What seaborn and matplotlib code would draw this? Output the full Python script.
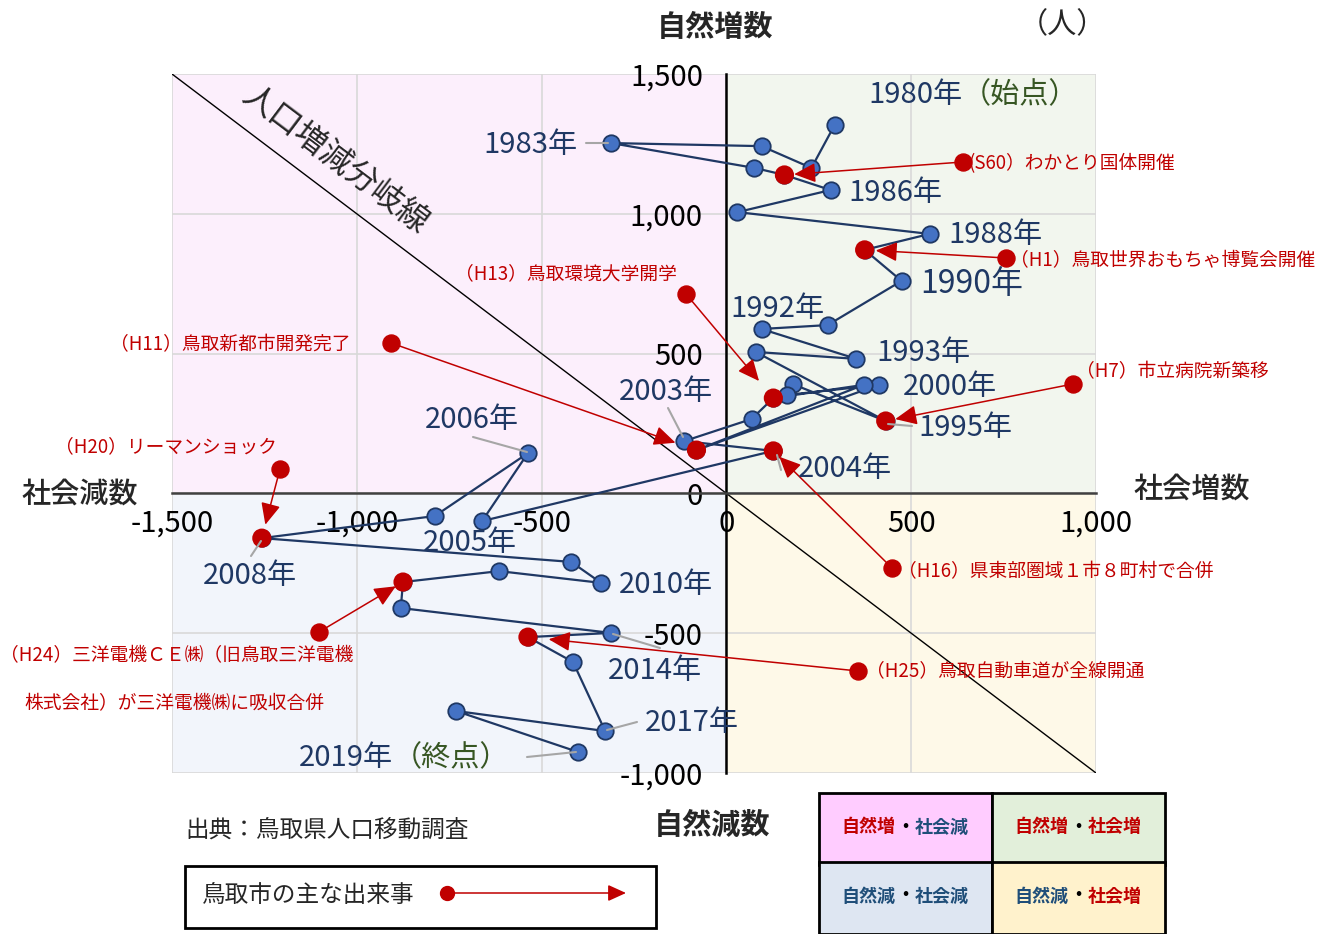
import numpy as np
import pandas as pd
import seaborn as sns
import matplotlib.pyplot as plt
from matplotlib.patches import Rectangle, FancyArrowPatch
from matplotlib.lines import Line2D
from matplotlib.ticker import FuncFormatter

# 鳥取市 人口動態（社会増減 x, 自然増減 y）
years = list(range(1980, 2020))
social = [293, 230, 95, -312, 76, 157, 282, 30, 550, 374,
          474, 274, 95, 352, 79, 431, 179, 163, 412, -81,
          371, 127, 68, -114, 127, -661, -537, -789, -1257, -420,
          -339, -615, -875, -881, -312, -537, -415, -328, -732, -401]
natural = [1318, 1164, 1242, 1253, 1164, 1139, 1085, 1006, 928, 871,
           760, 602, 588, 481, 506, 259, 391, 352, 388, 155,
           388, 341, 266, 187, 152, -99, 144, -81, -160, -245,
           -320, -278, -317, -410, -499, -514, -603, -850, -778, -925]

event_years = [1985, 1989, 2001, 1999, 1995, 2008, 2004, 2012, 2015]
event_labels = ["(S60）わかとり国体開催",
                "（H1）鳥取世界おもちゃ博覧会開催",
                "（H13）鳥取環境大学開学",
                "（H11）鳥取新都市開発完了",
                "（H7）市立病院新築移",
                "（H20）リーマンショック",
                "（H16）県東部圏域１市８町村で合併",
                "（H24）三洋電機ＣＥ㈱（旧鳥取三洋電機",
                "（H25）鳥取自動車道が全線開通"]
event_label2 = "株式会社）が三洋電機㈱に吸収合併"

x_ticks = [-1500, -1000, -500, 0, 500, 1000]
y_ticks = [-1000, -500, 0, 500, 1000, 1500]

W, H = 1338, 934
NAVY = "#1F3864"
RED = "#C00000"
GREEN = "#375623"
BLUE_TXT = "#1F4E79"

def fx(p):
    return p / W

def fy(p):
    return 1 - p / H

df = pd.DataFrame({"year": years, "social": social, "natural": natural})
ev = df[df["year"].isin(event_years)]

sns.set_theme(style="white")
plt.rcParams["font.family"] = ["Noto Sans CJK JP", "DejaVu Sans"]

fig = plt.figure(figsize=(W / 100, H / 100), dpi=100)
ax = fig.add_axes([fx(172), fy(773), fx(1096) - fx(172), fy(74) - fy(773)])
ax.set_xlim(-1500, 1000)
ax.set_ylim(-1000, 1500)

# 象限の背景
ax.fill_between([-1500, 0], 0, 1500, color="#FCEFFC", zorder=0, lw=0)
ax.fill_between([0, 1000], 0, 1500, color="#F2F6EE", zorder=0, lw=0)
ax.fill_between([-1500, 0], -1000, 0, color="#F2F5FB", zorder=0, lw=0)
ax.fill_between([0, 1000], -1000, 0, color="#FEF9E8", zorder=0, lw=0)

for v in x_ticks:
    ax.axvline(v, color="#D9D9D9", lw=1.2, zorder=0.5)
for v in y_ticks:
    ax.axhline(v, color="#D9D9D9", lw=1.2, zorder=0.5)

# 人口増減分岐線
ax.plot([-1500, 1000], [1500, -1000], color="black", lw=1, zorder=1)

sns.lineplot(data=df, x="social", y="natural", sort=False, estimator=None,
             color=NAVY, lw=1.6, ax=ax, zorder=3)
sns.scatterplot(data=df, x="social", y="natural", s=140, color="#4472C4",
                edgecolor=NAVY, linewidth=1.3, ax=ax, zorder=4)
sns.scatterplot(data=ev, x="social", y="natural", s=190, color=RED,
                edgecolor="none", ax=ax, zorder=5)

ax.spines["left"].set_position(("data", 0))
ax.spines["bottom"].set_position(("data", 0))
ax.spines["left"].set_color("black")
ax.spines["bottom"].set_color("#404040")
ax.spines["left"].set_linewidth(1.8)
ax.spines["bottom"].set_linewidth(1.8)
ax.spines["left"].set_zorder(2)
ax.spines["bottom"].set_zorder(2)
ax.spines["top"].set_visible(False)
ax.spines["right"].set_visible(False)
ax.set_xticks(x_ticks)
ax.set_yticks(y_ticks)
fmt = FuncFormatter(lambda v, p: f"{int(v):,}")
ax.xaxis.set_major_formatter(fmt)
ax.yaxis.set_major_formatter(fmt)
ax.tick_params(axis="both", direction="inout", length=10, width=1.5,
               labelsize=21, colors="black")
ax.tick_params(axis="x", pad=6)
ax.tick_params(axis="y", pad=12)
ax.set_xlabel("")
ax.set_ylabel("")

# 年ラベル
year_text = {1980: (868, 95), 1983: (483, 145), 1986: (848, 193), 1988: (948, 235),
             1990: (920, 284), 1992: (730, 309), 1993: (876, 353), 2000: (903, 387),
             1995: (918, 428), 2003: (619, 392), 2004: (798, 469), 2006: (425, 420),
             2005: (423, 543), 2008: (203, 576), 2010: (619, 585), 2014: (608, 671),
             2017: (645, 723), 2019: (299, 758)}
for y, (lx, ly) in year_text.items():
    size = 23 if y == 1990 else 21
    t = fig.text(fx(lx), fy(ly), f"{y}年", color=NAVY, fontsize=size,
                 ha="left", va="center")
    if y in (1980, 2019):
        fig.canvas.draw()
        bb = t.get_window_extent()
        word = "（始点）" if y == 1980 else "（終点）"
        fig.text(bb.x1 / W, fy(ly), word, color=GREEN, fontsize=size,
                 ha="left", va="center")

leaders = [((586, 143), (608, 143)), ((888, 424), (912, 426)), ((668, 408), (683, 437)),
           ((777, 455), (781, 470)), ((473, 437), (527, 452)), ((251, 556), (261, 541)),
           ((613, 634), (660, 648)), ((607, 730), (637, 722)), ((527, 757), (576, 752))]
for (x0, y0), (x1, y1) in leaders:
    fig.add_artist(Line2D([fx(x0), fx(x1)], [fy(y0), fy(y1)], color="#A6A6A6", lw=1.5))

# 出来事の矢印
event_layout = [((963, 162), (968, 164), 7), ((1006, 258), (1010, 261), 8),
                ((686, 294), (455, 274), 16), ((391, 343), (110, 345), 16),
                ((1073, 384), (1076, 372), 7), ((280, 469), (55, 447), 10),
                ((892, 568), (898, 572), 6), ((319, 632), (0, 656), 6),
                ((858, 671), (866, 672), 15)]
pos = dict(zip(years, zip(social, natural)))
for yr, lab, (dot, tpos, shr) in zip(event_years, event_labels, event_layout):
    dx = ax.transData.inverted().transform((dot[0], H - dot[1]))
    ax.scatter([dx[0]], [dx[1]], s=150, color=RED, zorder=6, clip_on=False)
    ax.annotate("", xy=pos[yr], xytext=dx,
                arrowprops=dict(arrowstyle="-|>,head_length=1.1,head_width=0.5",
                                color=RED, lw=1.1, shrinkA=0, shrinkB=shr),
                zorder=6)
    fig.text(fx(tpos[0]), fy(tpos[1]), lab, color=RED, fontsize=13.5,
             ha="left", va="center")
fig.text(fx(24), fy(704), event_label2, color=RED, fontsize=13.5, ha="left", va="center")

# 人口増減分岐線ラベル
fig.text(fx(336), fy(160), "人口増減分岐線", fontsize=23, rotation=-37,
         ha="center", va="center", rotation_mode="anchor")

# 軸タイトル
fig.text(fx(715), fy(27), "自然増数", fontsize=21, fontweight="bold", ha="center", va="center")
fig.text(fx(1062), fy(25), "（人）", fontsize=21, ha="center", va="center")
fig.text(fx(80), fy(495), "社会減数", fontsize=21, fontweight="medium", ha="center", va="center")
fig.text(fx(1192), fy(489), "社会増数", fontsize=21, fontweight="medium", ha="center", va="center")
fig.text(fx(712), fy(825), "自然減数", fontsize=21, fontweight="bold", ha="center", va="center")

fig.text(fx(185), fy(830), "出典：鳥取県人口移動調査", fontsize=17, ha="left", va="center")

# 凡例
fig.add_artist(Rectangle((fx(185), fy(928)), fx(656) - fx(185), fy(866) - fy(928),
                         transform=fig.transFigure, fill=False, ec="black", lw=2))
fig.text(fx(202), fy(896), "鳥取市の主な出来事", fontsize=17, ha="left", va="center")
fig.add_artist(Line2D([fx(447)], [fy(893)], marker="o", ms=10, color=RED,
                      transform=fig.transFigure))
fig.add_artist(FancyArrowPatch(
    (fx(447), fy(893)), (fx(626), fy(893)), transform=fig.transFigure,
    arrowstyle="-|>,head_length=1.1,head_width=0.5", color=RED, lw=1.1,
    shrinkA=0, shrinkB=0, mutation_scale=10))

# 象限の凡例表
cells = [((819, 793), "#FFCCFF", [("自然増", RED), ("社会減", BLUE_TXT)]),
         ((992, 793), "#E2EFDA", [("自然増", RED), ("社会増", RED)]),
         ((819, 862), "#DEE6F2", [("自然減", BLUE_TXT), ("社会減", BLUE_TXT)]),
         ((992, 862), "#FFF2CC", [("自然減", BLUE_TXT), ("社会増", RED)])]
for (cx, cy), col, parts in cells:
    fig.add_artist(Rectangle((fx(cx), fy(cy + 72)), fx(173), 72 / H,
                             transform=fig.transFigure, fc=col, ec="black", lw=2))
    mid = cy + 34
    fig.text(fx(cx + 49), fy(mid), parts[0][0], color=parts[0][1], fontsize=13,
             fontweight="bold", ha="center", va="center")
    fig.text(fx(cx + 86), fy(mid), "・", color="black", fontsize=13,
             fontweight="bold", ha="center", va="center")
    fig.text(fx(cx + 123), fy(mid), parts[1][0], color=parts[1][1], fontsize=13,
             fontweight="bold", ha="center", va="center")

fig.savefig("out.png", dpi=100)
